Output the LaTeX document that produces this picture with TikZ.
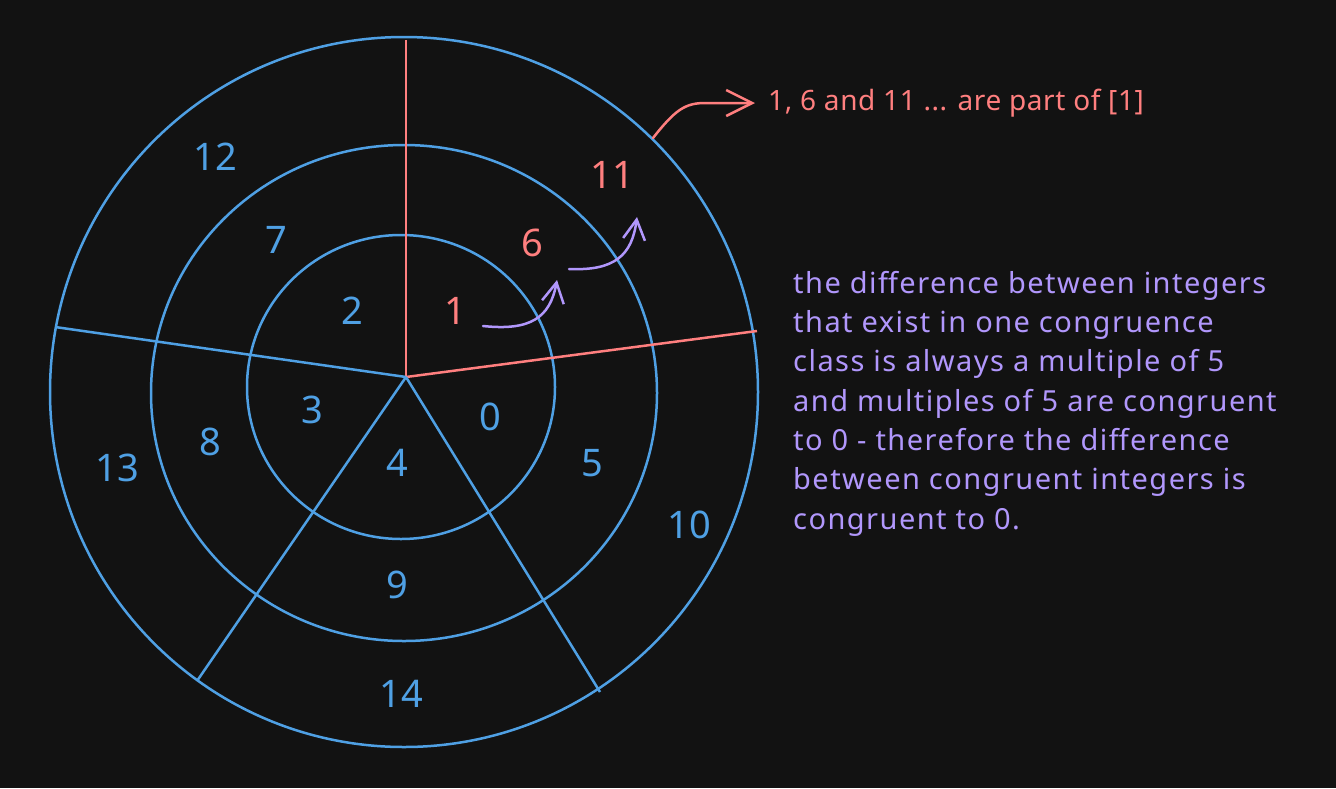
\documentclass[tikz,border=0pt]{standalone}
\usepackage{fontspec}
\setmainfont{Noto Sans}
\usepackage{xcolor}
\usetikzlibrary{positioning,calc,arrows.meta}

\definecolor{bg}{HTML}{121212}
\definecolor{ringblue}{HTML}{4FA0E4}
\definecolor{classred}{HTML}{FF7F7F}
\definecolor{notepurple}{HTML}{B197FC}

\begin{document}
\begin{tikzpicture}[x=1pt,y=-1pt,
    ring/.style={draw=ringblue, line width=2.5pt},
    spoke/.style={ringblue, line width=2.5pt},
    redspoke/.style={classred, line width=2.5pt},
    num/.style={font=\fontsize{38}{40}\selectfont, text=ringblue, inner sep=0pt},
    rednum/.style={num, text=classred},
    hop/.style={notepurple, line width=2.5pt, line cap=round, -{Straight Barb[length=20pt,width=22pt]}},
    callout/.style={classred, line width=2.5pt, line cap=round, -{Straight Barb[length=26pt,width=26pt]}},
    note/.style={font=\fontsize{29}{39.3}\selectfont\addfontfeature{LetterSpace=5}, inner sep=0pt, align=left},
    tag/.style={font=\fontsize{28}{30}\selectfont\addfontfeature{LetterSpace=2}, inner sep=0pt}]
    \fill[bg] (0,0) rectangle (1336,788);
    \useasboundingbox (0,0) rectangle (1336,788);

    % Rings
    \draw[ring] (404,392) ellipse [x radius=354pt, y radius=355pt];
    \draw[ring] (404,393) ellipse [x radius=253pt, y radius=248pt];
    \draw[ring] (401,387) ellipse [x radius=154pt, y radius=152pt];

    % Spokes
    \coordinate (c) at (406,377);
    \coordinate (top) at (406,40);
    \coordinate (east) at (757,331);
    \coordinate (west) at (55,327);
    \coordinate (sw) at (197,681);
    \coordinate (se) at (600,692);
    \draw[redspoke] (c) -- (top);
    \draw[redspoke] (c) -- (east);
    \draw[spoke] (c) -- (west);
    \draw[spoke] (c) -- (sw);
    \draw[spoke] (c) -- (se);

    % Residues
    \node[num] (n12) at (215,157) {12};
    \node[num] (n7) at (276,240) {7};
    \node[num] (n2) at (352,311) {2};
    \node[rednum] (n1) at (455,311) {1};
    \node[rednum] (n6) at (532,243) {6};
    \node[rednum] (n11) at (612,175) {11};
    \node[num] (n3) at (312,410) {3};
    \node[num] (n8) at (210,442) {8};
    \node[num] (n13) at (117,468) {13};
    \node[num] (n4) at (397,463) {4};
    \node[num] (n9) at (397,585) {9};
    \node[num] (n14) at (401,694) {14};
    \node[num] (n0) at (490,417) {0};
    \node[num] (n5) at (592,463) {5};
    \node[num] (n10) at (689,525) {10};

    % Hops 1 -> 6 -> 11
    \coordinate (h1s) at (483,326);
    \coordinate (h1e) at (557,280);
    \coordinate (h2s) at (569,269);
    \coordinate (h2e) at (637,217);
    \draw[hop] (h1s) .. controls (530,331) and (550,318) .. (h1e);
    \draw[hop] (h2s) .. controls (615,271) and (632,255) .. (h2e);

    % Class label
    \coordinate (rim) at (653,138);
    \coordinate (tip) at (755,103);
    \node[tag, text=classred, anchor=west] (lbl) at (768,103) {1, 6 and 11 ... are part of [1]};
    \draw[callout] (rim) .. controls (675,110) and (685,103) .. (705,103) -- (tip);

    % Note
    \node[note, text=notepurple, anchor=north west] (txt) at (793,271) {the difference between integers\\
        that exist in one congruence\\
        class is always a multiple of 5\\
        and multiples of 5 are congruent\\
        to 0 - therefore the difference\\
        between congruent integers is\\
        congruent to 0.};
\end{tikzpicture}
\end{document}
